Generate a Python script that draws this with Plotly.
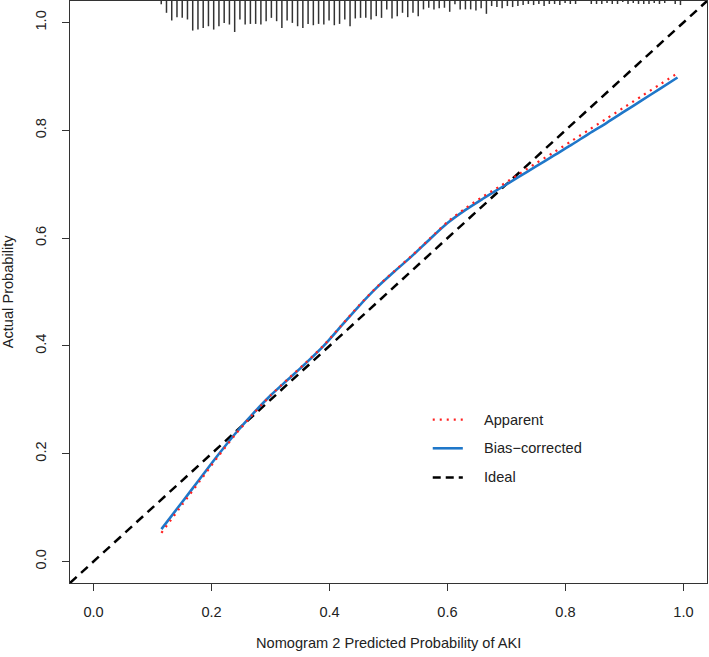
import numpy as np
import plotly.graph_objects as go

# ---- data ----
pred_x = [0.115, 0.15, 0.18, 0.21, 0.24, 0.27, 0.30, 0.33, 0.36, 0.39, 0.42, 0.45, 0.48,
          0.51, 0.54, 0.57, 0.60, 0.63, 0.66, 0.69, 0.72, 0.75, 0.78, 0.81, 0.84, 0.87,
          0.90, 0.93, 0.96, 0.99]
bias_corrected = [0.060, 0.110, 0.153, 0.196, 0.237, 0.274, 0.308, 0.338, 0.368, 0.400,
                  0.437, 0.474, 0.508, 0.538, 0.567, 0.598, 0.628, 0.652, 0.673, 0.693,
                  0.713, 0.733, 0.753, 0.773, 0.794, 0.814, 0.835, 0.856, 0.877, 0.898]
apparent = [0.053, 0.105, 0.149, 0.193, 0.235, 0.273, 0.308, 0.339, 0.369, 0.401,
            0.438, 0.475, 0.509, 0.539, 0.568, 0.599, 0.630, 0.655, 0.677, 0.697,
            0.718, 0.739, 0.759, 0.780, 0.801, 0.822, 0.843, 0.864, 0.885, 0.906]

# histogram spikes of predicted risk (relative frequency), 100 bins over data range
rug_lo, rug_hi = 0.1147, 0.995
rug_freq = [3.3, 11.7, 19.3, 16, 16.7, 18.3, 29.3, 28.3, 26.7, 25, 28.3, 25, 21.7, 23.3,
            30.7, 18.3, 23.3, 22.7, 22.7, 23.3, 20, 16.7, 20, 26.7, 19.3, 21.7, 25, 26.7,
            22.7, 24, 22.7, 23.3, 19.3, 24,
            22.7, 18.3, 25, 17.3, 16.7, 16.7, 18.3, 15, 16.7, 8.3, 17.3, 15, 11.7, 16,
            11.7, 15, 8.3, 6.7, 8.3, 7.3, 6.7, 10.7, 3.3, 8.3, 8.3, 8.3, 9.3, 7.3, 12.7,
            5, 6, 7.3, 5, 6, 5,
            4, 3, 4, 3, 5, 3, 3, 4, 2, 3, 3, 0, 0, 3, 3, 3, 2, 3, 3, 1, 3, 2, 3, 3, 3,
            2, 3, 2, 0, 3, 4]

tick_vals = [0.0, 0.2, 0.4, 0.6, 0.8, 1.0]
tick_text = ["0.0", "0.2", "0.4", "0.6", "0.8", "1.0"]

legend_labels = ["Apparent", "Bias\u2212corrected", "Ideal"]

x_title = "Nomogram 2 Predicted Probability of AKI"
y_title = "Actual Probability"

# ---- figure ----
XR = [-0.04, 1.04]
YR = [-0.04, 1.04]
FONT = "Liberation Sans, Arial, Helvetica, sans-serif"
FS = 14.6
TXT = "#222222"
BLUE = "#1f77c9"

fig = go.Figure()

# rug spikes from top
rx = np.linspace(rug_lo, rug_hi, len(rug_freq))
scale = 0.0575 / max(rug_freq)
sx, sy = [], []
for xv, f in zip(rx, rug_freq):
    if f <= 0:
        continue
    sx += [xv, xv, None]
    sy += [YR[1], YR[1] - f * scale, None]
fig.add_trace(go.Scatter(x=sx, y=sy, mode="lines",
                         line=dict(color="#333333", width=1.5),
                         hoverinfo="skip", showlegend=False))

# ideal
fig.add_trace(go.Scatter(x=XR, y=YR, mode="lines",
                         line=dict(color="black", width=2.5, dash="9px,6px"),
                         showlegend=False))
# bias-corrected
fig.add_trace(go.Scatter(x=pred_x, y=bias_corrected, mode="lines",
                         line=dict(color=BLUE, width=2.6, shape="spline", smoothing=0.8),
                         showlegend=False))
# apparent
fig.add_trace(go.Scatter(x=pred_x, y=apparent, mode="lines",
                         line=dict(color="#ff2020", width=2.2, dash="2px,5px",
                                   shape="spline", smoothing=0.8),
                         showlegend=False))

# manual legend (R style)
leg_y = [0.263, 0.210, 0.156]
leg_styles = [dict(color="#ff2020", width=2.2, dash="2px,5px"),
              dict(color=BLUE, width=2.6),
              dict(color="black", width=2.5, dash="8px,5px")]
for lab, yy, st in zip(legend_labels, leg_y, leg_styles):
    fig.add_trace(go.Scatter(x=[0.575, 0.626], y=[yy, yy], mode="lines", line=st,
                             showlegend=False, hoverinfo="skip"))
    fig.add_annotation(x=0.659, y=yy, xref="x", yref="y", text=lab, showarrow=False,
                       xanchor="left", yanchor="middle",
                       font=dict(family=FONT, size=FS, color=TXT))

# axis titles
fig.add_annotation(x=0.5, y=-0.103, xref="paper", yref="paper", text=x_title,
                   showarrow=False, xanchor="center", yanchor="middle",
                   font=dict(family=FONT, size=FS, color=TXT))
fig.add_annotation(x=-0.097, y=0.5, xref="paper", yref="paper", text=y_title,
                   showarrow=False, textangle=-90, xanchor="center", yanchor="middle",
                   font=dict(family=FONT, size=FS, color=TXT))

axis_common = dict(showgrid=False, zeroline=False, showline=True, mirror=True,
                   linecolor="#333333", linewidth=1, ticks="outside", ticklen=7,
                   tickcolor="#333333", tickwidth=1, automargin=False,
                   tickvals=tick_vals, ticktext=tick_text,
                   tickfont=dict(family=FONT, size=FS, color=TXT))

fig.update_layout(
    width=709, height=657,
    margin=dict(l=70, r=2, t=1, b=74),
    paper_bgcolor="white", plot_bgcolor="white",
    xaxis=dict(range=XR, ticklabelstandoff=8, **axis_common),
    yaxis=dict(range=YR, tickangle=-90, ticklabelstandoff=10, **axis_common),
    showlegend=False,
)

fig.write_html("out.html",
               config={"displayModeBar": False},
               post_script="document.body.style.margin='0';"
                           "document.body.style.overflow='hidden';")
